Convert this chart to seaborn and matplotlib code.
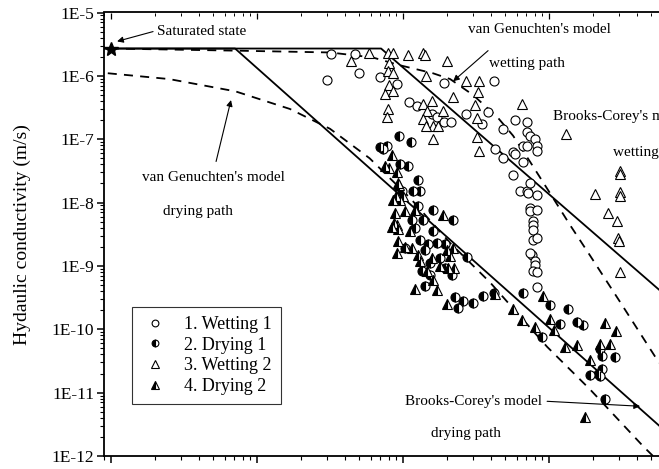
import numpy as np
import pandas as pd
import matplotlib
matplotlib.use("Agg")
import matplotlib.pyplot as plt
import seaborn as sns
from matplotlib.ticker import LogLocator, FuncFormatter, NullFormatter

# ---------------- data (suction, hydraulic conductivity m/s) ----------------
wet1_s = [30, 32, 47, 50, 69, 91, 110, 125, 158, 171, 191, 191, 213, 270, 348, 382, 420, 427, 484, 484,
          566, 566, 585, 585, 632, 664, 664, 707, 707, 707, 707, 718, 741, 741, 741, 741, 777, 777, 777, 777,
          802, 828, 828, 828, 828, 828, 766, 802, 802, 777, 828, 828, 741]
wet1_k = [8.5e-7, 2.2e-6, 2.2e-6, 1.1e-6, 9.5e-7, 7.4e-7, 3.9e-7, 3.3e-7, 2.5e-7, 2.25e-7,
          7.7e-7, 1.9e-7, 1.9e-7, 2.5e-7, 1.75e-7, 2.7e-7, 8.2e-7, 6.9e-8, 1.46e-7, 5.0e-8,
          6.2e-8, 2.7e-8, 2.0e-7, 5.9e-8, 1.5e-8, 7.9e-8, 4.4e-8, 1.9e-7, 1.3e-7, 7.9e-8,
          1.5e-8, 1.4e-8, 1.13e-7, 2.0e-8, 8.2e-9, 7.3e-9, 5.1e-9, 4.4e-9, 3.7e-9, 2.6e-9,
          1.02e-7, 7.9e-8, 6.6e-8, 1.3e-8, 7.6e-9, 2.8e-9, 1.5e-9, 1.2e-9, 1.05e-9, 8.4e-10,
          7.9e-10, 4.6e-10, 1.6e-9]

dry1_s = [94, 113, 70, 78, 73, 95, 108, 127, 117, 131, 98, 160, 127, 220, 137, 115, 160, 171, 194, 148,
          131, 142, 274, 217, 135, 142, 153, 227, 258, 238, 301, 353, 420, 664, 1016, 1349, 1555, 1710, 1189, 896,
          2236, 2307, 2831, 2307, 1910, 2167, 2236, 2421, 121, 179, 153, 194, 103]
dry1_k = [1.13e-7, 9.1e-8, 7.6e-8, 7.9e-8, 6.9e-8, 4.1e-8, 3.8e-8, 2.3e-8, 1.5e-8, 1.5e-8,
          1.5e-8, 7.6e-9, 8.8e-9, 5.3e-9, 5.3e-9, 5.3e-9, 3.6e-9, 2.3e-9, 2.2e-9, 2.2e-9,
          2.6e-9, 1.8e-9, 1.4e-9, 7.1e-10, 8.4e-10, 4.9e-10, 7.3e-10, 3.2e-10, 2.8e-10, 2.2e-10,
          2.6e-10, 3.3e-10, 3.7e-10, 3.7e-10, 2.4e-10, 2.07e-10, 1.3e-10, 1.16e-10, 1.21e-10, 7.5e-11,
          4.9e-11, 3.8e-11, 3.7e-11, 2.4e-11, 1.9e-11, 2.0e-11, 1.8e-11, 7.8e-12, 4.0e-9, 1.35e-9,
          1.13e-9, 9.4e-10, 1.9e-9]

wet2_s = [44, 58, 79, 85, 108, 137, 142, 200, 80, 79, 85, 144, 80, 75, 85, 220, 270, 332, 327, 311,
          137, 158, 188, 146, 79, 77, 137, 160, 174, 144, 160, 321, 321, 332, 653, 1307, 3062, 3062, 2065, 3062,
          3062, 2535, 2924, 2972, 3016, 3062]
wet2_k = [1.7e-6, 2.3e-6, 2.3e-6, 2.3e-6, 2.1e-6, 2.3e-6, 2.1e-6, 1.7e-6, 1.6e-6, 1.2e-6,
          1.1e-6, 9.9e-7, 7.1e-7, 5.2e-7, 5.7e-7, 4.6e-7, 8.2e-7, 8.2e-7, 5.5e-7, 3.5e-7,
          3.6e-7, 4.0e-7, 2.8e-7, 2.8e-7, 3.0e-7, 2.25e-7, 2.1e-7, 1.6e-7, 1.6e-7, 1.6e-7,
          1.0e-7, 2.2e-7, 1.1e-7, 6.4e-8, 3.6e-7, 1.2e-7, 3.2e-8, 2.8e-8, 1.35e-8, 1.46e-8,
          1.26e-8, 6.8e-9, 5.1e-9, 2.8e-9, 2.5e-9, 7.9e-10]

dry2_s = [84, 75, 91, 94, 90, 100, 88, 103, 121, 188, 87, 91, 85, 95, 84, 92, 112, 92, 103, 115,
          91, 127, 158, 200, 220, 210, 131, 179, 203, 223, 146, 160, 121, 171, 200, 427, 566, 653, 910, 802,
          1016, 1082, 1288, 1555, 1910, 2236, 2618, 2421, 2877, 1766, 80, 92]
dry2_k = [5.7e-8, 3.8e-8, 3.0e-8, 1.9e-8, 1.26e-8, 1.26e-8, 6.8e-9, 7.3e-9, 7.6e-9, 6.4e-9,
          4.8e-9, 4.4e-9, 1.1e-8, 1.1e-8, 4.1e-9, 3.8e-9, 3.6e-9, 2.5e-9, 2.0e-9, 1.9e-9,
          1.6e-9, 1.5e-9, 1.35e-9, 1.8e-9, 1.9e-9, 1.45e-9, 1.2e-9, 1.0e-9, 9.4e-10, 9.4e-10,
          8.4e-10, 6.1e-10, 4.3e-10, 4.1e-10, 2.5e-10, 3.6e-10, 2.1e-10, 1.4e-10, 3.4e-10, 1.1e-10,
          1.44e-10, 9.7e-11, 5.3e-11, 5.6e-11, 3.3e-11, 5.9e-11, 5.9e-11, 1.25e-10, 9.4e-11, 4.1e-12,
          3.5e-8, 2.0e-8]

sat_s = [1.0]
sat_k = [2.7e-6]

# model curves
bc_dry_s = [0.85, 7.07, 15000]
bc_dry_k = [2.7e-6, 2.7e-6, 4.1e-13]
bc_wet_s = [0.85, 70.7, 15000]
bc_wet_k = [2.7e-6, 2.7e-6, 6.0e-11]
vg_dry_s = [0.95, 2.5, 7.1, 16.8, 31.6, 59, 112, 210, 394, 968, 1910, 4400, 6300]
vg_dry_k = [1.1e-6, 8.9e-7, 5.7e-7, 3.0e-7, 1.46e-7, 5.0e-8, 1.17e-8, 2.3e-9, 5.5e-10, 5.3e-11,
            1.12e-11, 1.43e-12, 6.3e-13]
vg_wet_s = [0.98, 7.1, 31.6, 62, 95, 160, 210, 301, 441, 566, 741, 1016, 1393, 1910, 3062, 5320, 10000]
vg_wet_k = [2.7e-6, 2.5e-6, 2.34e-6, 1.95e-6, 1.47e-6, 1.1e-6, 8.9e-7, 5.0e-7, 2.25e-7, 1.14e-7,
            4.4e-8, 1.4e-8, 4.4e-9, 1.45e-9, 2.7e-10, 3.7e-11, 5e-12]

labels = ["1. Wetting 1", "2. Drying 1", "3. Wetting 2", "4. Drying 2"]

# ---------------- style ----------------
sns.set_theme(style="ticks")
plt.rcParams['font.family'] = ['Liberation Serif', 'DejaVu Serif']
plt.rcParams['axes.edgecolor'] = 'black'
plt.rcParams['xtick.color'] = 'black'
plt.rcParams['ytick.color'] = 'black'
plt.rcParams['text.color'] = 'black'
plt.rcParams['axes.labelcolor'] = 'black'

fig = plt.figure(figsize=(6.59, 4.69), dpi=100)
W, H = 659.0, 469.0
left_px, right_px, top_px, bot_px = 104, 720, 12.5, 456
ax = fig.add_axes([left_px / W, (H - bot_px) / H, (right_px - left_px) / W, (bot_px - top_px) / H])
ax.set_xscale('log')
ax.set_yscale('log')
ax.set_xlim(0.895, 14800)
ax.set_ylim(1e-12, 1e-5)

# model lines
lw = 1.3
sns.lineplot(x=bc_dry_s, y=bc_dry_k, ax=ax, color='black', lw=lw, sort=False, estimator=None, legend=False)
sns.lineplot(x=bc_wet_s, y=bc_wet_k, ax=ax, color='black', lw=lw, sort=False, estimator=None, legend=False)
sns.lineplot(x=vg_dry_s, y=vg_dry_k, ax=ax, color='black', lw=lw, sort=False, estimator=None, legend=False,
             linestyle=(0, (5, 4)))
sns.lineplot(x=vg_wet_s, y=vg_wet_k, ax=ax, color='black', lw=lw, sort=False, estimator=None, legend=False,
             linestyle=(0, (5, 4)))

# points
ms = 6.5
mew = 0.8
ax.plot(wet1_s, wet1_k, ls='none', marker='o', ms=ms, mfc='white', mec='black', mew=mew,
        label=labels[0], zorder=5)
ax.plot(dry1_s, dry1_k, ls='none', marker='o', ms=ms, fillstyle='left', mfc='black',
        markerfacecoloralt='white', mec='black', mew=mew, label=labels[1], zorder=5)
ax.plot(wet2_s, wet2_k, ls='none', marker='^', ms=ms + 0.8, mfc='white', mec='black', mew=mew,
        label=labels[2], zorder=5)
ax.plot(dry2_s, dry2_k, ls='none', marker='^', ms=ms + 0.8, fillstyle='left', mfc='black',
        markerfacecoloralt='white', mec='black', mew=mew, label=labels[3], zorder=5)
ax.plot(sat_s, sat_k, ls='none', marker='*', ms=10, color='black', zorder=6)

# axes styling
for sp in ax.spines.values():
    sp.set_linewidth(1.3)
    sp.set_color('black')
ax.yaxis.set_major_locator(LogLocator(base=10, numticks=20))
ax.yaxis.set_minor_locator(LogLocator(base=10, subs=np.arange(2, 10), numticks=20))
ax.yaxis.set_major_formatter(FuncFormatter(lambda v, p: "1E%d" % int(round(np.log10(v)))))
ax.yaxis.set_minor_formatter(NullFormatter())
ax.xaxis.set_major_locator(LogLocator(base=10, numticks=20))
ax.xaxis.set_minor_locator(LogLocator(base=10, subs=np.arange(2, 10), numticks=20))
ax.xaxis.set_minor_formatter(NullFormatter())
ax.tick_params(axis='y', which='major', direction='out', length=5, width=1.1, left=True, right=False,
               labelsize=12.5, pad=2)
ax.tick_params(axis='y', which='minor', direction='out', length=3, width=0.8, left=True, right=False)
ax.tick_params(axis='x', which='major', direction='out', length=5, width=1.1, bottom=True, top=False,
               labelbottom=False)
ax.tick_params(axis='x', which='minor', direction='out', length=3, width=0.8, bottom=True, top=False)

top = ax.twiny()
top.set_xscale('log')
top.set_xlim(ax.get_xlim())
top.xaxis.set_major_locator(LogLocator(base=10, numticks=20))
top.xaxis.set_minor_locator(LogLocator(base=10, subs=np.arange(2, 10), numticks=20))
top.tick_params(axis='x', which='major', direction='in', length=4, width=0.9, labeltop=False)
top.tick_params(axis='x', which='minor', direction='in', length=2.5, width=0.7)
for sp in top.spines.values():
    sp.set_visible(False)

ax.set_ylabel("Hydaulic conductivity (m/s)", fontsize=14)
ax.yaxis.set_label_coords((31 - left_px) / (right_px - left_px), 0.5)
ax.set_xlabel("")

# annotations
fs = 11
arr = dict(arrowstyle='-|>', color='black', lw=0.8, mutation_scale=9, shrinkA=0, shrinkB=0)
ax.text(2.07, 5.0e-6, "Saturated state", fontsize=fs, ha='left', va='center')
ax.annotate("", xy=(1.10, 3.5e-6), xytext=(1.94, 5.0e-6), arrowprops=arr)

ax.text(5.0, 2.5e-8, "van Genuchten's model", fontsize=fs, ha='center', va='center')
ax.text(3.94, 7.3e-9, "drying path", fontsize=fs, ha='center', va='center')
ax.annotate("", xy=(6.63, 4.15e-7), xytext=(5.24, 4.45e-8), arrowprops=arr)

ax.text(855, 5.4e-6, "van Genuchten's model", fontsize=fs, ha='center', va='center')
ax.text(707, 1.57e-6, "wetting path", fontsize=fs, ha='center', va='center')
ax.annotate("", xy=(220, 8.2e-7), xytext=(382, 2.5e-6), arrowprops=arr)

ax.text(1065, 2.3e-7, "Brooks-Corey's model", fontsize=fs, ha='left', va='center')
ax.text(2742, 6.1e-8, "wetting path", fontsize=fs, ha='left', va='center')

ax.text(896, 7.3e-12, "Brooks-Corey's model", fontsize=fs, ha='right', va='center')
ax.annotate("", xy=(4200, 6.1e-12), xytext=(969, 7.3e-12), arrowprops=arr)
ax.text(270, 2.3e-12, "drying path", fontsize=fs, ha='center', va='center')

leg = ax.legend(loc='upper left', bbox_to_anchor=(132 / W, 1 - 307 / H), bbox_transform=fig.transFigure,
                frameon=True, fancybox=False, edgecolor='black', fontsize=13, handlelength=1.6,
                handletextpad=0.8, borderpad=0.5, labelspacing=0.2, borderaxespad=0, markerscale=0.75)
leg.get_frame().set_linewidth(0.8)
leg.set_zorder(10)

fig.savefig("out.png", dpi=100)
